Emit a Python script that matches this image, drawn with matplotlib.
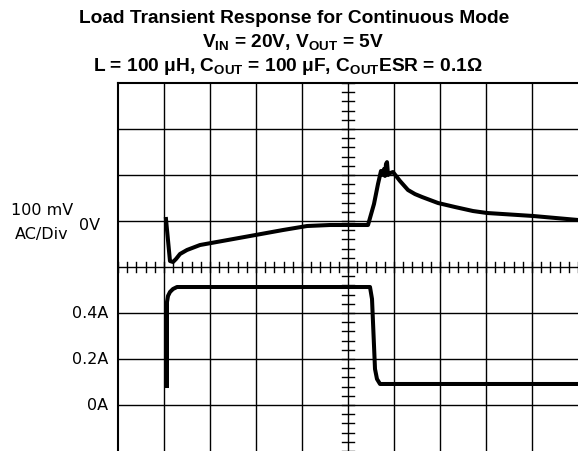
import numpy as np
import matplotlib.pyplot as plt

plt.rcParams['mathtext.fontset'] = 'custom'
plt.rcParams['mathtext.rm'] = 'Liberation Sans:bold'
plt.rcParams['mathtext.it'] = 'Liberation Sans:bold'
plt.rcParams['mathtext.bf'] = 'Liberation Sans:bold'

v_x = [1.043, 1.130, 1.196, 1.261, 1.348, 1.500, 1.783, 2.870, 3.587, 4.109,
       4.609, 5.435, 5.565, 5.652, 5.717, 5.761, 5.783, 5.804, 5.826, 5.848,
       5.870, 5.913, 5.978, 6.130, 6.304, 6.457, 6.609, 6.957, 7.326, 7.717,
       8.022, 9.022, 10.0]
v_y = [5.043, 4.130, 4.109, 4.174, 4.283, 4.370, 4.478, 4.674, 4.804, 4.891,
       4.913, 4.913, 5.370, 5.804, 6.087, 6.000, 6.130, 5.980, 6.240, 6.280,
       6.000, 6.040, 6.065, 5.870, 5.674, 5.585, 5.522, 5.391, 5.304, 5.217,
       5.174, 5.109, 5.022]

i_x = [1.065, 1.065, 1.087, 1.130, 1.196, 1.283, 5.478, 5.522, 5.587, 5.630,
       5.696, 10.0]
i_y = [1.413, 3.239, 3.370, 3.457, 3.522, 3.565, 3.565, 3.304, 1.783, 1.565,
       1.457, 1.457]

# etiquetas del eje (posicion en divisiones, texto)
i_ticks = [3, 2, 1]
i_labels = ['0.4A', '0.2A', '0A']
v_zero = 5

fig = plt.figure(figsize=(5.78, 4.52), dpi=100)
ax = fig.add_axes([118 / 578, 0, 460 / 578, 368 / 452])
ax.set_xlim(0, 10)
ax.set_ylim(0, 8)
ax.set_xticks([])
ax.set_yticks([])
for s in ['right', 'bottom']:
    ax.spines[s].set_visible(False)
for s in ['left', 'top']:
    ax.spines[s].set_linewidth(1.5)

# cuadricula
for k in range(1, 10):
    ax.axvline(k, color='black', lw=1.0)
for k in range(1, 8):
    ax.axhline(k, color='black', lw=1.0)

# marcas menores en los ejes centrales
for t in np.arange(0, 10.01, 0.2):
    ax.plot([t, t], [3.9, 4.1], color='black', lw=1.0)
for t in np.arange(0, 8.01, 0.2):
    ax.plot([4.88, 5.12], [t, t], color='black', lw=1.0)

ax.plot(v_x, v_y, color='black', lw=2.9, solid_joinstyle='round')
ax.plot(i_x, i_y, color='black', lw=2.9, solid_joinstyle='round')

lab = dict(fontsize=11.5, family='DejaVu Sans', clip_on=False, va='center')
for y, t in zip(i_ticks, i_labels):
    ax.text(-0.22, y, t, ha='right', **lab)
ax.text(-0.39, v_zero - 0.07, '0V', ha='right', **lab)
ax.text(-1.65, v_zero + 0.24, '100 mV', ha='center', **lab)
ax.text(-1.65, v_zero - 0.27, 'AC/Div', ha='center', **lab)

tit = dict(ha='center', va='baseline', fontsize=13.8, fontweight='bold',
           family='Liberation Sans')
fig.text(294 / 578, 1 - 23 / 452, 'Load Transient Response for Continuous Mode', **tit)
fig.text(293 / 578, 1 - 47 / 452, r'$\mathrm{V_{IN}}$ = 20V, $\mathrm{V_{OUT}}$ = 5V', **tit)
fig.text(288 / 578, 1 - 71 / 452,
         r'L = 100 μH, $\mathrm{C_{OUT}}$ = 100 μF, $\mathrm{C_{OUT}}$ESR = 0.1Ω', **tit)

fig.savefig('out.png', dpi=100)
